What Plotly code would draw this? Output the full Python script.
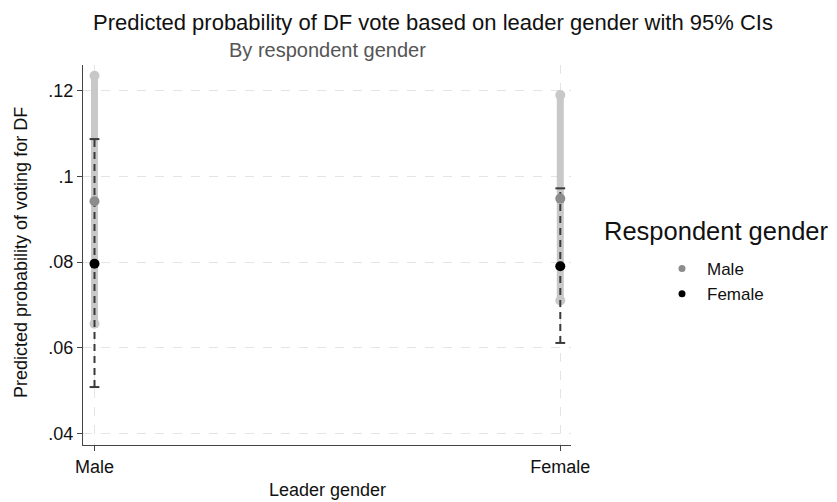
import plotly.graph_objects as go

# Predicted probabilities with 95% confidence limits, by leader gender
leader_gender = ["Male", "Female"]

male_resp_est = [0.0942, 0.0948]
male_resp_lo = [0.0656, 0.0710]
male_resp_hi = [0.1235, 0.1190]

female_resp_est = [0.0796, 0.0790]
female_resp_lo = [0.0508, 0.0611]
female_resp_hi = [0.1087, 0.0972]

y_tick_vals = [0.04, 0.06, 0.08, 0.10, 0.12]
y_tick_text = [".04", ".06", ".08", ".1", ".12"]

FONT = "Liberation Sans, Arial, Helvetica, sans-serif"
pos = list(range(len(leader_gender)))

# plot-area geometry (pixels)
W, H = 837, 502
L, R, T, B = 83, 266, 65, 57
PW, PH = W - L - R, H - T - B


def px_x(p):
    return (p - L) / PW


def px_y(p):
    return (H - B - p) / PH


def segments(lo, hi):
    xs, ys = [], []
    for p, a, b in zip(pos, lo, hi):
        xs += [p, p, None]
        ys += [a, b, None]
    return xs, ys


fig = go.Figure()

# Male respondents: thick light-grey interval
gx, gy = segments(male_resp_lo, male_resp_hi)
fig.add_trace(go.Scatter(x=gx, y=gy, mode="lines",
                         line=dict(color="#c8c8c8", width=7),
                         showlegend=False, hoverinfo="skip"))
fig.add_trace(go.Scatter(x=pos + pos, y=male_resp_lo + male_resp_hi, mode="markers",
                         marker=dict(symbol="circle", size=10, color="#c8c8c8"),
                         showlegend=False, hoverinfo="skip"))

# Female respondents: thin dashed dark interval with caps
bx, by = segments(female_resp_lo, female_resp_hi)
fig.add_trace(go.Scatter(x=bx, y=by, mode="lines",
                         line=dict(color="#3a3a3a", width=2, dash="7px,5px"),
                         showlegend=False, hoverinfo="skip"))
fig.add_trace(go.Scatter(x=pos + pos, y=female_resp_lo + female_resp_hi, mode="markers",
                         marker=dict(symbol="line-ew", size=7,
                                     line=dict(color="#3a3a3a", width=2)),
                         showlegend=False, hoverinfo="skip"))

# Point estimates
MALE_PT, FEMALE_PT = "#8c8c8c", "#000000"
fig.add_trace(go.Scatter(x=pos, y=male_resp_est, mode="markers", name="Male",
                         marker=dict(size=10, color=MALE_PT), showlegend=False))
fig.add_trace(go.Scatter(x=pos, y=female_resp_est, mode="markers", name="Female",
                         marker=dict(size=10, color=FEMALE_PT), showlegend=False))

# Legend keys (smaller dots)
fig.add_trace(go.Scatter(x=[None], y=[None], mode="markers", name="Male",
                         marker=dict(size=7, color=MALE_PT)))
fig.add_trace(go.Scatter(x=[None], y=[None], mode="markers", name="Female",
                         marker=dict(size=7, color=FEMALE_PT)))

axis_common = dict(
    showline=True, linecolor="#444", linewidth=1,
    ticks="outside", ticklen=5, tickcolor="#444",
    showgrid=True, gridcolor="#e4e4e4", griddash="dash", gridwidth=1,
    zeroline=False, tickfont=dict(size=18, color="#111"),
    automargin=False,
)

fig.update_xaxes(
    **axis_common,
    range=[-0.0247, 1.023],
    tickvals=pos, ticktext=leader_gender,
)
fig.update_yaxes(
    **axis_common,
    range=[0.03727, 0.126],
    tickvals=y_tick_vals, ticktext=y_tick_text,
)

fig.update_layout(
    width=W, height=H,
    margin=dict(l=L, r=R, t=T, b=B, autoexpand=False),
    paper_bgcolor="white", plot_bgcolor="white",
    font=dict(family=FONT, color="#111"),
    title=dict(
        text="Predicted probability of DF vote based on leader gender with 95% CIs",
        x=433 / W, xanchor="center", y=1 - 22 / H, yanchor="middle",
        font=dict(size=22, color="#111"),
    ),
    showlegend=True,
    legend=dict(
        x=px_x(657), xanchor="left", y=px_y(251), yanchor="top",
        font=dict(size=17, color="#111"), itemwidth=40,
        bgcolor="rgba(0,0,0,0)", tracegroupgap=0,
    ),
    annotations=[
        dict(text="By respondent gender", xref="paper", yref="paper",
             x=0.5, y=px_y(50), xanchor="center", yanchor="middle",
             showarrow=False, font=dict(size=20, color="#555")),
        dict(text="Respondent gender", xref="paper", yref="paper",
             x=px_x(602), y=px_y(231), xanchor="left", yanchor="middle",
             showarrow=False, font=dict(size=25.5, color="#111")),
        dict(text="Leader gender", xref="paper", yref="paper",
             x=0.5, y=px_y(490), xanchor="center", yanchor="middle",
             showarrow=False, font=dict(size=18, color="#111")),
        dict(text="Predicted probability of voting for DF", xref="paper", yref="paper",
             x=px_x(21), y=px_y(253), xanchor="center", yanchor="middle",
             textangle=-90, showarrow=False, font=dict(size=18, color="#111")),
    ],
)

fig.write_html("out.html")
